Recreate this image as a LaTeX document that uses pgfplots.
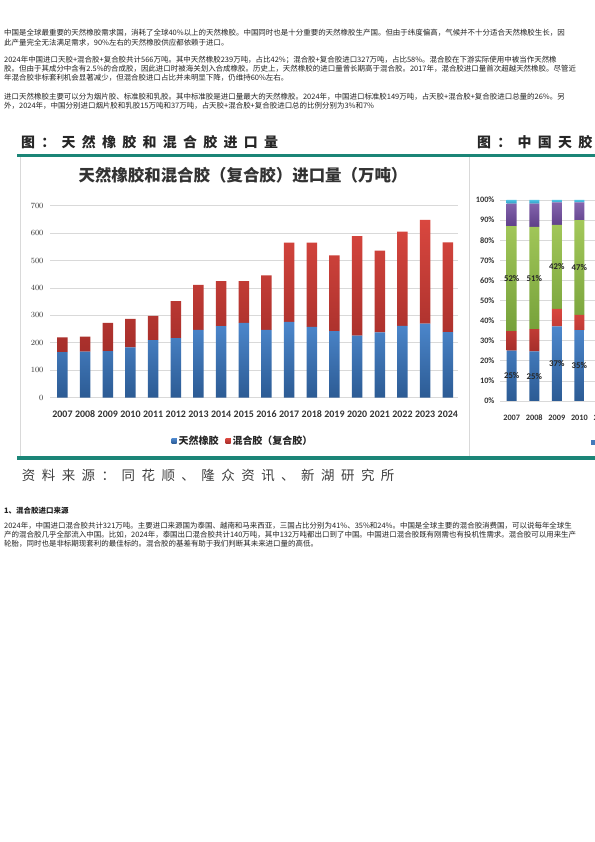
\documentclass[border=0pt]{standalone}
\usepackage{pgfplots}
\pgfplotsset{compat=1.18}
\usepackage{pgfplotstable}
\usepackage{fontspec}
\setmainfont{Noto Sans CJK SC}
\newfontfamily\carl{Carlito}
\XeTeXlinebreaklocale "zh"
\XeTeXlinebreakskip=0pt plus 2pt minus 0.2pt

\definecolor{teal1}{HTML}{1B8577}
\definecolor{bluet}{HTML}{4C87CC}
\definecolor{blueb}{HTML}{2C5B94}
\definecolor{redt}{HTML}{D9473F}
\definecolor{redb}{HTML}{A52E2A}
\definecolor{greent}{HTML}{A3C85A}
\definecolor{greenb}{HTML}{76A13A}
\definecolor{purpt}{HTML}{8464AE}
\definecolor{purpb}{HTML}{5E3F88}
\definecolor{cyant}{HTML}{4EC0E2}
\definecolor{cyanb}{HTML}{2F9CC4}
\definecolor{gridc}{HTML}{D9D9D9}
\definecolor{txt}{HTML}{222222}

\makeatletter
\def\spaced#1#2{\def\sp@amt{#1}\sp@aux#2\@nil}
\def\sp@aux#1{\ifx#1\@nil\else#1\hspace{\sp@amt}\expandafter\sp@aux\fi}
\makeatother

\newcommand\body{\fontsize{7.5}{9}\selectfont}
\newcommand\fline[2]{\node[anchor=west,inner sep=0pt,text=txt] at (4,#1) {\body\hbox to 584bp{#2}};}
\newcommand\lline[2]{\node[anchor=west,inner sep=0pt,text=txt] at (4,#1) {\body #2};}
\newcommand\lab{\carl\bfseries\fontsize{8.8}{10}\selectfont}

\pgfplotstableread{
i year nat mix
0 2007 166 54
1 2008 168 55
2 2009 170 103
3 2010 183 104
4 2011 210 88
5 2012 217 135
6 2013 247 164
7 2014 261 164
8 2015 273 152
9 2016 247 199
10 2017 276 289
11 2018 258 307
12 2019 243 276
13 2020 226 363
14 2021 238 298
15 2022 262 343
16 2023 270 378
17 2024 239 327
}\rubbertab

\pgfplotstableread{
i year sblue sred sgreen spurple scyan
0 2007 25.0 9.7 52.3 11.2 1.8
1 2008 24.7 11.0 50.9 11.6 1.8
2 2009 37.1 8.7 41.8 11.2 1.2
3 2010 35.3 7.5 47.2 8.8 1.2
}\sharetab

\begin{document}
\begin{tikzpicture}[x=1bp,y=1bp]
\useasboundingbox (0,0) rectangle (595,842);
\fill[white] (0,0) rectangle (595,842);
\clip (0,0) rectangle (595,842);

% ---- top paragraphs ----
\fline{809.5}{中国是全球最重要的天然橡胶需求国，消耗了全球40\%以上的天然橡胶。中国同时也是十分重要的天然橡胶生产国。但由于纬度偏高，气候并不十分适合天然橡胶生长，因}
\lline{799.5}{此产量完全无法满足需求，90\%左右的天然橡胶供应都依赖于进口。}
\fline{782.3}{2024年中国进口天胶+混合胶+复合胶共计566万吨。其中天然橡胶239万吨，占比42\%；混合胶+复合胶进口327万吨，占比58\%。混合胶在下游实际使用中被当作天然橡}
\fline{773.3}{胶。但由于其成分中含有2.5\%的合成胶，因此进口时被海关划入合成橡胶。历史上，天然橡胶的进口量曾长期高于混合胶。2017年，混合胶进口量首次超越天然橡胶。尽管近}
\lline{764.3}{年混合胶非标套利机会显著减少，但混合胶进口占比并未明显下降，仍维持60\%左右。}
\fline{745.7}{进口天然橡胶主要可以分为烟片胶、标准胶和乳胶。其中标准胶是进口量最大的天然橡胶。2024年，中国进口标准胶149万吨，占天胶+混合胶+复合胶进口总量的26\%。另}
\lline{736.7}{外，2024年，中国分别进口烟片胶和乳胶15万吨和37万吨，占天胶+混合胶+复合胶进口总的比例分别为3\%和7\%}

% ---- headers ----
\node[anchor=west,inner sep=0pt,text=black!85] at (21,699.5) {\fontsize{14}{16}\selectfont\bfseries\spaced{6.3bp}{图：天然橡胶和混合胶进口量}};
\node[anchor=west,inner sep=0pt,text=black!85] at (477,699.5) {\fontsize{14}{16}\selectfont\bfseries\spaced{6.3bp}{图：中国天胶进口结构}};
\fill[teal1] (17,684.7) rectangle (595,688);
\draw[gridc,line width=0.6bp] (20.5,684.7) -- (20.5,386);
\draw[gridc,line width=0.6bp] (469,684.7) -- (469,386);

% ---- chart title ----
\node[text=black!80] at (243,666.5) {\fontsize{16.5}{18}\selectfont\bfseries 天然橡胶和混合胶（复合胶）进口量（万吨）};

% ---- main chart ----
\begin{axis}[
  at={(50bp,444.3bp)}, anchor=south west, scale only axis,
  width=408bp, height=192bp,
  xmin=-0.55, xmax=17.45, ymin=0, ymax=700,
  ybar stacked, bar width=10.5bp,
  axis line style={draw=none}, tick style={draw=none},
  ytick={0,100,...,700},
  ymajorgrids, grid style={gridc,line width=0.7bp},
  xtick={0,...,17},
  xticklabels={2007,2008,2009,2010,2011,2012,2013,2014,2015,2016,2017,2018,2019,2020,2021,2022,2023,2024},
  xticklabel style={font=\carl\bfseries\fontsize{10}{11}\selectfont, text=black!80, text height=7bp, text depth=0bp, yshift=-9bp},
  yticklabel style={font=\carl\bfseries\fontsize{8.5}{10}\selectfont, text=black!80, xshift=-3bp},
  legend style={at={(0.473,-0.2255)}, anchor=center, draw=none, fill=none,
    legend columns=2, font=\fontsize{10}{12}\selectfont\bfseries, text=black!85,
    /tikz/every even column/.append style={column sep=5bp}},
]
\addplot[draw=none, top color=bluet, bottom color=blueb,
  legend image code/.code={\fill[bluet!70!blueb] (0bp,-2.5bp) rectangle (5bp,2.5bp);}]
  table[x=i,y=nat] {\rubbertab};
\addlegendentry{天然橡胶}
\addplot[draw=none, top color=redt, bottom color=redb,
  legend image code/.code={\fill[redt!80!redb] (0bp,-2.5bp) rectangle (5bp,2.5bp);}]
  table[x=i,y=mix] {\rubbertab};
\addlegendentry{混合胶（复合胶）}
\end{axis}

% ---- second chart (partially visible) ----
\begin{axis}[
  at={(500bp,441bp)}, anchor=south west, scale only axis,
  width=248.5bp, height=201bp,
  xmin=-0.52, xmax=10.5, ymin=0, ymax=100,
  ybar stacked, bar width=10bp,
  axis line style={draw=none}, tick style={draw=none},
  ytick={0,10,20,30,40,50,60,70,80,90,100},
  yticklabels={0\%,10\%,20\%,30\%,40\%,50\%,60\%,70\%,80\%,90\%,100\%},
  ymajorgrids, grid style={gridc,line width=0.7bp},
  xtick={0,1,2,3,4},
  xticklabels={2007,2008,2009,2010,2011},
  xticklabel style={font=\carl\bfseries\fontsize{8.3}{10}\selectfont, text=black!80, text height=6bp, text depth=0bp, yshift=-10bp},
  yticklabel style={font=\carl\bfseries\fontsize{8.3}{10}\selectfont, text=black!80, xshift=-2bp},
  clip=false,
]
\addplot[draw=none, top color=bluet, bottom color=blueb] table[x=i,y=sblue] {\sharetab};
\addplot[draw=none, top color=redt, bottom color=redb] table[x=i,y=sred] {\sharetab};
\addplot[draw=none, top color=greent, bottom color=greenb] table[x=i,y=sgreen] {\sharetab};
\addplot[draw=none, top color=purpt, bottom color=purpb] table[x=i,y=spurple] {\sharetab};
\addplot[draw=none, top color=cyant, bottom color=cyanb] table[x=i,y=scyan] {\sharetab};
\end{axis}

% ---- overlay axis with the segment labels (drawn after the bars) ----
\begin{axis}[
  at={(500bp,441bp)}, anchor=south west, scale only axis,
  width=248.5bp, height=201bp,
  xmin=-0.52, xmax=10.5, ymin=0, ymax=100,
  hide axis, clip=false,
]
\node[font=\lab, text=black!85, inner sep=0pt] at (axis cs:0,12.5) {25\%};
\node[font=\lab, text=black!85, inner sep=0pt] at (axis cs:1,12.35) {25\%};
\node[font=\lab, text=black!85, inner sep=0pt] at (axis cs:2,18.55) {37\%};
\node[font=\lab, text=black!85, inner sep=0pt] at (axis cs:3,17.65) {35\%};
\node[font=\lab, text=black!85, inner sep=0pt] at (axis cs:0,60.85) {52\%};
\node[font=\lab, text=black!85, inner sep=0pt] at (axis cs:1,61.15) {51\%};
\node[font=\lab, text=black!85, inner sep=0pt] at (axis cs:2,66.7) {42\%};
\node[font=\lab, text=black!85, inner sep=0pt] at (axis cs:3,66.4) {47\%};
\end{axis}
\fill[bluet!70!blueb] (591,396.5) rectangle (596,401.5);

% ---- bottom rule and source ----
\fill[teal1] (17,382) rectangle (595,386);
\node[anchor=west,inner sep=0pt,text=black!75] at (21.7,367) {\fontsize{13.5}{15}\selectfont\spaced{6.5bp}{资料来源：同花顺、隆众资讯、新湖研究所}};

% ---- bottom section ----
\node[anchor=west,inner sep=0pt,text=txt] at (4,331) {\body\bfseries 1、混合胶进口来源};
\fline{316}{2024年，中国进口混合胶共计321万吨。主要进口来源国为泰国、越南和马来西亚，三国占比分别为41\%、35\%和24\%。中国是全球主要的混合胶消费国，可以说每年全球生}
\fline{307}{产的混合胶几乎全部流入中国。比如，2024年，泰国出口混合胶共计140万吨，其中132万吨都出口到了中国。中国进口混合胶既有刚需也有投机性需求。混合胶可以用来生产}
\lline{298}{轮胎，同时也是非标期现套利的最佳标的。混合胶的基差有助于我们判断其未来进口量的高低。}
\end{tikzpicture}
\end{document}
